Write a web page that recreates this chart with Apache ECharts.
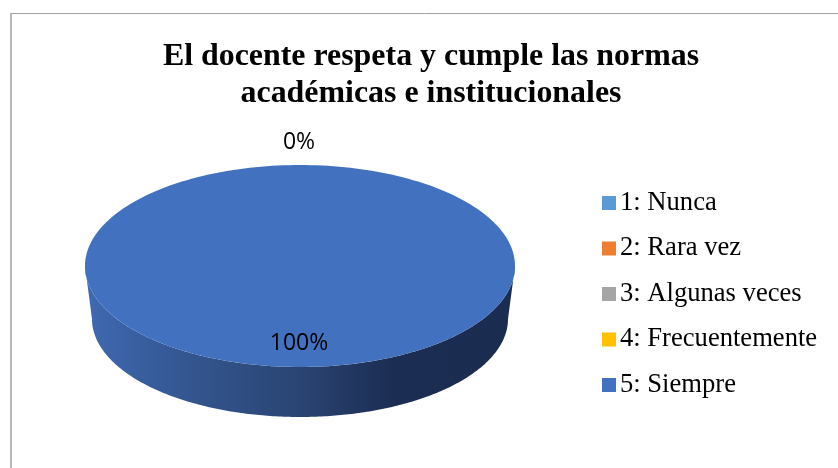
<!DOCTYPE html>
<html>
<head>
<meta charset="utf-8">
<style>html,body{margin:0;padding:0;background:#fff}#c{width:838px;height:468px}</style>
<script src="https://cdn.jsdelivr.net/npm/echarts@6/dist/echarts.min.js"></script>
</head>
<body>
<div id="c"></div>
<script>
const categories = ['1: Nunca', '2: Rara vez', '3: Algunas veces', '4: Frecuentemente', '5: Siempre'];
const values = [0, 0, 0, 0, 100];
const colors = ['#5B9BD5', '#ED7D31', '#A5A5A5', '#FFC000', '#4271C0'];
const titleLines = ['El docente respeta y cumple las normas', 'académicas e institucionales'];

const total = values.reduce((a, b) => a + b, 0);
const lastZero = values.lastIndexOf(0);
const G = { cx: 300, cy: 266, rx: 215, ry: 101, brx: 208, bcy: 319, bry: 98 };

function pt(cx, cy, rx, ry, a) {
  return [cx + rx * Math.sin(a), cy - ry * Math.cos(a)];
}
function arc(cx, cy, rx, ry, a0, a1) {
  const pts = [], n = 240;
  for (let i = 0; i <= n; i++) pts.push(pt(cx, cy, rx, ry, a0 + (a1 - a0) * i / n));
  return pts;
}
const sideFill = new echarts.graphic.LinearGradient(0, 0, 1, 0, [
  { offset: 0, color: '#3F69B2' },
  { offset: 0.25, color: '#33558F' },
  { offset: 0.5, color: '#2A4472' },
  { offset: 0.72, color: '#1B2D52' },
  { offset: 1, color: '#1A2C50' }
]);

function sliceRenderer(idx) {
  const before = values.slice(0, idx).reduce((a, b) => a + b, 0);
  return function (params, api) {
    const v = api.value(0);
    const a0 = before / total * 2 * Math.PI;
    const a1 = (before + v) / total * 2 * Math.PI;
    const mid = (a0 + a1) / 2;
    const children = [];
    if (v > 0) {
      const s0 = Math.max(a0, Math.PI / 2), s1 = Math.min(a1, Math.PI * 1.5);
      if (s1 > s0) {
        children.push({
          type: 'polygon',
          shape: { points: arc(G.cx, G.cy, G.rx, G.ry, s0, s1).concat(arc(G.cx, G.bcy, G.brx, G.bry, s1, s0)) },
          style: { fill: sideFill }
        });
      }
      const full = v === total;
      const pts = arc(G.cx, G.cy, G.rx, G.ry, a0, a1);
      if (!full) pts.push([G.cx, G.cy]);
      children.push({ type: 'polygon', shape: { points: pts }, style: { fill: colors[idx] } });
    }
    const showLabel = v > 0 || idx === lastZero;
    if (showLabel) {
      const factor = v > 0 ? 0.77 : 1.22;
      const p = pt(G.cx, G.cy, G.rx * factor, G.ry * factor, mid);
      children.push({
        type: 'text',
        z2: 10,
        style: {
          x: p[0] - 1, y: p[1],
          text: Math.round(v / total * 100) + '%',
          fill: '#000',
          font: '23px "Open Sans"',
          align: 'center', verticalAlign: 'middle'
        }
      });
    }
    return { type: 'group', children };
  };
}

const chart = echarts.init(document.getElementById('c'), null, { renderer: 'canvas' });
chart.setOption({
  animation: false,
  backgroundColor: '#fff',
  title: {
    text: titleLines.join('\n'),
    left: 426, top: 33, textAlign: 'center',
    textStyle: { fontFamily: 'Liberation Serif', fontWeight: 'bold', fontSize: 31.9, lineHeight: 37, color: '#000' }
  },
  legend: {
    orient: 'vertical', left: 597, top: 184,
    itemWidth: 14, itemHeight: 14, itemGap: 17.5, 
    icon: 'rect',
    data: categories,
    textStyle: { fontFamily: 'Liberation Serif', fontSize: 26.6, lineHeight: 28, color: '#000', padding: [0, 0, 0, -1] }
  },
  graphic: [
    { type: 'line', silent: true, shape: { x1: 10.5, y1: 13.5, x2: 838, y2: 13.5 }, style: { stroke: '#A0A0A0', lineWidth: 1 } },
    { type: 'line', silent: true, shape: { x1: 11, y1: 13.5, x2: 11, y2: 468 }, style: { stroke: '#A0A0A0', lineWidth: 1.5 } }
  ],
  series: categories.map((name, i) => ({
    type: 'custom',
    name,
    coordinateSystem: 'none',
    silent: true,
    itemStyle: { color: colors[i] },
    renderItem: sliceRenderer(i),
    data: [[values[i]]]
  }))
});
</script>
</body>
</html>
